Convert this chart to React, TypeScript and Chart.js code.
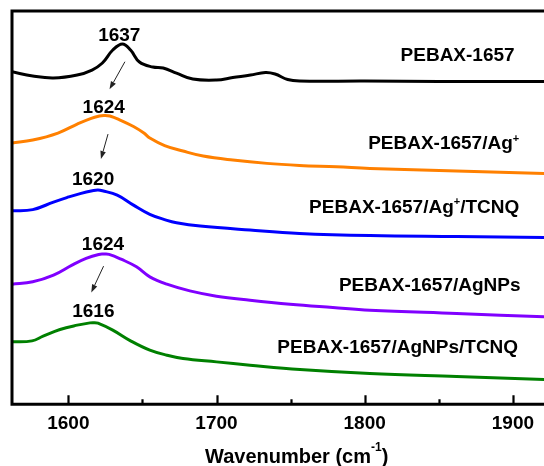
import { useEffect, useRef } from "react";
import { Chart, registerables } from "chart.js";

Chart.register(...registerables);

const FAMILY = '"Liberation Sans", Arial, Helvetica, sans-serif';

// ---- axis ----
const xMin = 1562;
const xMax = 1921;
const yMin = 0;
const yMax = 39.3;
const majorTicks = [1600, 1700, 1800, 1900];
const minorTicks = [1650, 1750, 1850];

// ---- series (wavenumber, offset intensity a.u.) ----
const pebaxX = [1562, 1576, 1590, 1606, 1616, 1623, 1630, 1636.5, 1642, 1648, 1657, 1664, 1673, 1684, 1700, 1711, 1723, 1733, 1739.5, 1748, 1756, 1800, 1850, 1921];
const pebaxY = [33.23, 32.8, 32.6, 32.9, 33.4, 34.1, 35.4, 36.0, 35.4, 34.2, 33.7, 33.6, 33.1, 32.5, 32.4, 32.65, 32.9, 33.15, 33.0, 32.45, 32.3, 32.3, 32.25, 32.25];

const agX = [1562, 1576, 1593, 1606, 1615, 1621, 1624, 1628, 1635, 1644, 1651, 1655, 1665, 1677.4, 1691, 1711, 1734, 1756, 1781, 1803.5, 1862, 1921];
const agY = [26.1, 26.4, 27.1, 28.0, 28.55, 28.8, 28.85, 28.8, 28.4, 27.75, 27.1, 26.6, 25.85, 25.3, 24.8, 24.4, 24.07, 23.87, 23.73, 23.57, 23.3, 23.07];

const agTcnqX = [1562, 1576, 1590, 1599, 1608, 1617, 1620, 1623, 1633, 1644, 1655, 1666, 1673, 1689, 1722.6, 1756, 1803.5, 1862, 1921];
const agTcnqY = [19.33, 19.45, 20.2, 20.65, 21.05, 21.35, 21.4, 21.33, 20.9, 19.9, 18.98, 18.4, 18.13, 17.8, 17.4, 17.07, 16.85, 16.75, 16.65];

const npX = [1562, 1576, 1590, 1602.5, 1612, 1620.5, 1624, 1627.5, 1636, 1646, 1655, 1666.5, 1682, 1700, 1722.6, 1749.6, 1778.5, 1803.5, 1862, 1921];
const npY = [12.0, 12.23, 12.9, 13.9, 14.57, 14.97, 15.0, 14.97, 14.47, 13.73, 12.73, 12.0, 11.33, 10.8, 10.4, 10.0, 9.67, 9.4, 9.07, 8.73];

const npTcnqX = [1562, 1575.5, 1583, 1594.4, 1606, 1614.6, 1617, 1620, 1630, 1642, 1655, 1666.5, 1677.4, 1700, 1722.6, 1756.3, 1803.5, 1862, 1921];
const npTcnqY = [6.23, 6.33, 6.8, 7.47, 7.9, 8.13, 8.15, 8.1, 7.4, 6.33, 5.4, 4.9, 4.57, 4.23, 3.9, 3.47, 3.07, 2.77, 2.47];

const seriesColors = ["#000000", "#FF8000", "#0000FF", "#8000FF", "#008000"];

// ---- series labels (text segments; sup = superscript) ----
type Seg = { t: string; sup?: boolean };
const seriesNames: Seg[][] = [
  [{ t: "PEBAX-1657" }],
  [{ t: "PEBAX-1657/Ag" }, { t: "+", sup: true }],
  [{ t: "PEBAX-1657/Ag" }, { t: "+", sup: true }, { t: "/TCNQ" }],
  [{ t: "PEBAX-1657/AgNPs" }],
  [{ t: "PEBAX-1657/AgNPs/TCNQ" }],
];
const nameX = [1862.7, 1853.3, 1833.4, 1843.9, 1822.3];
const nameY = [34.96, 26.2, 19.84, 12.0, 5.82];

// ---- peak labels ----
const peakText = ["1637", "1624", "1620", "1624", "1616"];
const peakX = [1634.4, 1623.9, 1616.7, 1623.4, 1616.9];
const peakY = [37.03, 29.82, 22.62, 16.1, 9.43];

// ---- arrows ----
const arrowFromX = [1638.2, 1626.8, 1623.8];
const arrowFromY = [34.23, 27.0, 13.8];
const arrowToX = [1627.8, 1622.0, 1615.5];
const arrowToY = [31.47, 24.5, 11.17];

const axisTitle: Seg[] = [{ t: "Wavenumber (cm" }, { t: "-1", sup: true }, { t: ")" }];
const axisTitleX = 1754.1;

const toPoints = (xs: number[], ys: number[]) => xs.map((x, i) => ({ x, y: ys[i] }));
const seriesData = [
  toPoints(pebaxX, pebaxY),
  toPoints(agX, agY),
  toPoints(agTcnqX, agTcnqY),
  toPoints(npX, npY),
  toPoints(npTcnqX, npTcnqY),
];

function drawRich(
  ctx: CanvasRenderingContext2D,
  segs: Seg[],
  cx: number,
  cy: number,
  size: number,
  supRise: number
) {
  const main = `bold ${size}px ${FAMILY}`;
  const supSize = Math.round(size * 0.58);
  const sup = `bold ${supSize}px ${FAMILY}`;
  const widths = segs.map((s) => {
    ctx.font = s.sup ? sup : main;
    return ctx.measureText(s.t).width;
  });
  const total = widths.reduce((a, b) => a + b, 0);
  let x = cx - total / 2;
  const baseline = cy + 0.358 * size;
  ctx.textAlign = "left";
  ctx.textBaseline = "alphabetic";
  segs.forEach((s, i) => {
    ctx.font = s.sup ? sup : main;
    ctx.fillText(s.t, x, s.sup ? baseline - supRise * size : baseline);
    x += widths[i];
  });
}

const overlay = {
  id: "overlay",
  afterDraw(chart: any) {
    const { ctx, chartArea } = chart;
    const { left, right, top, bottom } = chartArea;
    const xs = chart.scales.x;
    const ys = chart.scales.y;
    ctx.save();
    ctx.fillStyle = "#000";
    ctx.strokeStyle = "#000";

    // frame
    ctx.lineWidth = 3;
    ctx.beginPath();
    ctx.moveTo(right + 3, top);
    ctx.lineTo(left, top);
    ctx.lineTo(left, bottom);
    ctx.lineTo(right + 3, bottom);
    ctx.stroke();

    // inward ticks
    ctx.lineWidth = 2.2;
    ctx.beginPath();
    majorTicks.forEach((v) => {
      const p = Math.round(xs.getPixelForValue(v)) + 0.5;
      ctx.moveTo(p, bottom);
      ctx.lineTo(p, bottom - 9);
    });
    minorTicks.forEach((v) => {
      const p = Math.round(xs.getPixelForValue(v)) + 0.5;
      ctx.moveTo(p, bottom);
      ctx.lineTo(p, bottom - 5);
    });
    ctx.stroke();

    // arrows
    ctx.lineWidth = 1;
    ctx.strokeStyle = "#222";
    ctx.fillStyle = "#222";
    arrowFromX.forEach((_, i) => {
      const x1 = xs.getPixelForValue(arrowFromX[i]);
      const y1 = ys.getPixelForValue(arrowFromY[i]);
      const x2 = xs.getPixelForValue(arrowToX[i]);
      const y2 = ys.getPixelForValue(arrowToY[i]);
      const ang = Math.atan2(y2 - y1, x2 - x1);
      const hl = 8;
      const hw = 2.8;
      const bx = x2 - hl * Math.cos(ang);
      const by = y2 - hl * Math.sin(ang);
      ctx.beginPath();
      ctx.moveTo(x1, y1);
      ctx.lineTo(bx, by);
      ctx.stroke();
      ctx.beginPath();
      ctx.moveTo(x2, y2);
      ctx.lineTo(bx + hw * Math.sin(ang), by - hw * Math.cos(ang));
      ctx.lineTo(bx - hw * Math.sin(ang), by + hw * Math.cos(ang));
      ctx.closePath();
      ctx.fill();
    });

    ctx.fillStyle = "#000";
    // peak labels
    peakText.forEach((t, i) => {
      drawRich(ctx, [{ t }], xs.getPixelForValue(peakX[i]), ys.getPixelForValue(peakY[i]), 19, 0);
    });

    // series labels
    seriesNames.forEach((segs, i) => {
      drawRich(ctx, segs, xs.getPixelForValue(nameX[i]), ys.getPixelForValue(nameY[i]), 19, 0.37);
    });

    // axis title
    drawRich(ctx, axisTitle, xs.getPixelForValue(axisTitleX), bottom + 52, 20, 0.6);

    ctx.restore();
  },
};

export default function App() {
  const ref = useRef<HTMLCanvasElement>(null);
  useEffect(() => {
    if (!ref.current) return;
    const chart = new Chart(ref.current, {
      type: "line",
      data: {
        datasets: seriesData.map((d, i) => ({
          label: seriesNames[i].map((s) => s.t).join(""),
          data: d,
          borderColor: seriesColors[i],
          backgroundColor: seriesColors[i],
          borderWidth: 3,
          pointRadius: 0,
          fill: false,
          tension: 0.4,
          borderJoinStyle: "round" as const,
          borderCapStyle: "round" as const,
        })),
      },
      options: {
        responsive: false,
        animation: false,
        devicePixelRatio: 1,
        parsing: false as const,
        layout: { padding: { left: 12, right: 0, top: 11, bottom: 23 } },
        plugins: {
          legend: { display: false },
          tooltip: { enabled: false },
        },
        scales: {
          x: {
            type: "linear",
            min: xMin,
            max: xMax,
            afterBuildTicks: (scale: any) => {
              scale.ticks = majorTicks.map((v) => ({ value: v }));
            },
            ticks: {
              color: "#000",
              font: { family: FAMILY, size: 19, weight: "bold" },
              padding: 8,
              maxRotation: 0,
              autoSkip: false,
              includeBounds: false,
              callback: (v: any) => String(v),
            },
            grid: { display: false, drawTicks: false },
            border: { display: false },
          },
          y: { display: false, min: yMin, max: yMax },
        },
      },
      plugins: [overlay],
    });
    return () => chart.destroy();
  }, []);
  return (
    <div
      style={{
        position: "absolute",
        left: 0,
        top: 0,
        width: 544,
        height: 466,
        overflow: "hidden",
        background: "#fff",
      }}
    >
      <canvas ref={ref} width={544} height={466} style={{ display: "block", width: 544, height: 466 }} />
    </div>
  );
}
